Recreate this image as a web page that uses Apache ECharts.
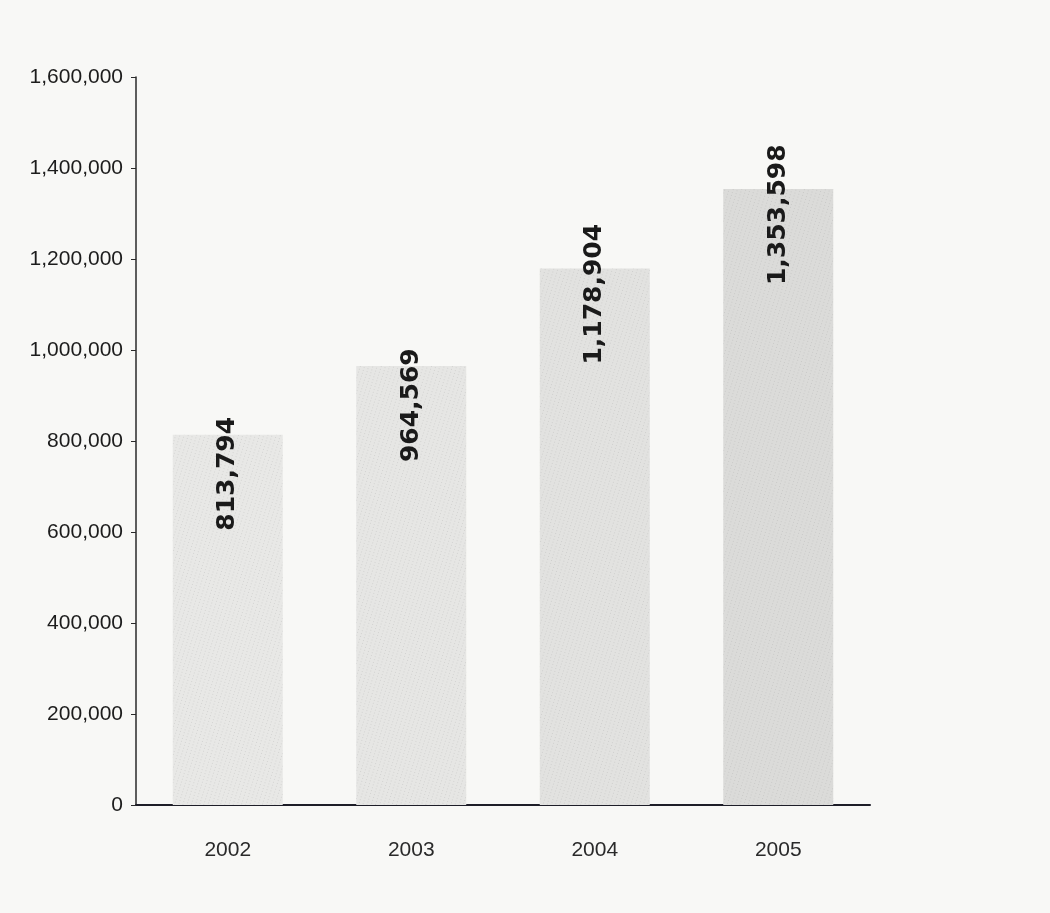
<!DOCTYPE html>
<html>
<head>
<meta charset="utf-8">
<script src="https://cdn.jsdelivr.net/npm/echarts@6/dist/echarts.min.js"></script>
<style>
  html, body { margin: 0; padding: 0; background: #f8f8f6; }
  #chart { width: 1050px; height: 913px; }
</style>
</head>
<body>
<div id="chart"></div>
<script>
// Yearly totals, 2002-2005
const years = ['2002', '2003', '2004', '2005'];
const totals = [813794, 964569, 1178904, 1353598];
const barColors = ['#e8e8e6', '#e6e6e4', '#e2e2e0', '#dbdbd9'];

const chart = echarts.init(document.getElementById('chart'), null, { renderer: 'canvas' });

// light stippled fill for the bars
const stipple = {
  symbol: 'rect',
  symbolSize: 1,
  color: 'rgba(140,140,140,0.22)',
  dashArrayX: [1, 3],
  dashArrayY: [1, 2],
  rotation: 0.3
};

chart.setOption({
  backgroundColor: '#f8f8f6',
  animation: false,
  grid: { left: 136, right: 180, top: 77, bottom: 108 },
  xAxis: {
    type: 'category',
    data: years,
    axisLine: { lineStyle: { color: '#1e1e28', width: 2 } },
    axisTick: { show: false },
    axisLabel: {
      margin: 35,
      fontSize: 21,
      color: '#2a2a2a',
      fontFamily: 'Liberation Sans, Arial, sans-serif'
    }
  },
  yAxis: {
    type: 'value',
    min: 0,
    max: 1600000,
    interval: 200000,
    axisLine: { show: true, lineStyle: { color: '#2a2a2a', width: 1.5 } },
    axisTick: { show: true, length: 5, lineStyle: { color: '#2a2a2a' } },
    splitLine: { show: false },
    axisLabel: {
      margin: 13,
      fontSize: 21,
      color: '#1c1c1c',
      fontFamily: 'Liberation Sans, Arial, sans-serif',
      formatter: v => v.toLocaleString('en-US')
    }
  },
  series: [{
    type: 'bar',
    barWidth: 110,
    data: totals.map((v, i) => ({
      value: v,
      itemStyle: { color: barColors[i], decal: stipple }
    })),
    label: {
      show: true,
      position: 'insideTop',
      distance: 96,
      rotate: 90,
      align: 'left',
      verticalAlign: 'middle',
      fontSize: 25,
      fontWeight: 'bold',
      color: '#1a1a1a',
      fontFamily: 'DejaVu Sans, Arial, sans-serif',
      formatter: p => p.value.toLocaleString('en-US')
    }
  }]
});
</script>
</body>
</html>
